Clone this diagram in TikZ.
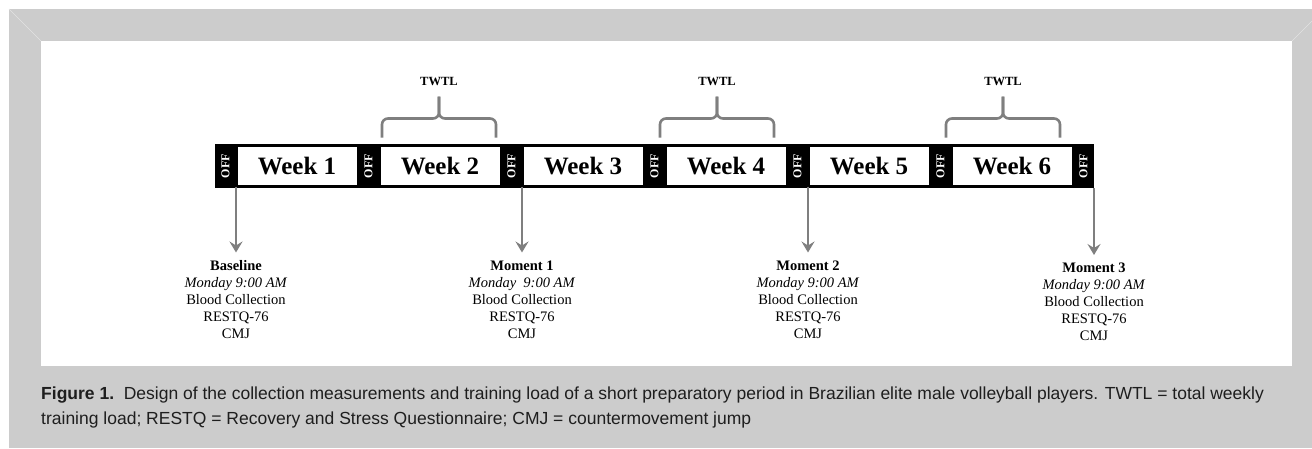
\documentclass[tikz,border=0pt]{standalone}
\usepackage{fontspec}
\setmainfont{Liberation Serif}
\newfontfamily\capfont{Liberation Sans}
\usetikzlibrary{positioning, arrows.meta, calc}
\definecolor{framegray}{HTML}{CCCCCC}
\definecolor{linegray}{HTML}{7F7F7F}
\definecolor{captext}{HTML}{1E1E1E}

\tikzset{
  offcell/.style={fill=black, minimum width=21pt, minimum height=44pt, inner sep=0pt, outer sep=0pt,
    text=white, font=\bfseries\fontsize{12}{12}\selectfont},
  weekbox/.style={draw=black, fill=white, line width=3pt, minimum width=122pt, minimum height=41pt,
    inner sep=0pt, outer sep=0pt, font=\bfseries\fontsize{25}{25}\selectfont},
  bracket/.style={draw=linegray, line width=2.6pt, rounded corners=6pt},
  twtl/.style={inner sep=0pt, font=\bfseries\fontsize{12.5}{12.5}\selectfont},
  moment/.style={align=center, inner sep=0pt, font=\fontsize{14.5}{17}\selectfont},
  momentarrow/.style={draw=linegray, line width=2.6pt, shorten >=8pt,
    -{Stealth[length=11pt, width=13pt, inset=4pt]}},
  caption/.style={align=left, inner sep=0pt, text=captext, font=\capfont\fontsize{17.5}{25}\selectfont}
}

\begin{document}
\begin{tikzpicture}[x=1pt, y=-1pt]
  \useasboundingbox (0,0) rectangle (1312,448);
  % frame
  \fill[white] (0,0) rectangle (1312,448);
  \fill[framegray] (9,9) rectangle (1312,448);
  \fill[white] (41,41) rectangle (1292,366);
  \draw[white!45!framegray, line width=0.6pt] (9,9) -- (41,41);
  \draw[white!45!framegray, line width=0.6pt] (1292,41) -- (1312,21);

  % timeline
  \node[offcell] (off0) at (225.5,166) {\rotatebox{90}{OFF}};
  \node[weekbox, right=0pt of off0] (w1) {Week 1};
  \node[offcell, right=0pt of w1] (off1) {\rotatebox{90}{OFF}};
  \node[weekbox, right=0pt of off1] (w2) {Week 2};
  \node[offcell, right=0pt of w2] (off2) {\rotatebox{90}{OFF}};
  \node[weekbox, right=0pt of off2] (w3) {Week 3};
  \node[offcell, right=0pt of w3] (off3) {\rotatebox{90}{OFF}};
  \node[weekbox, right=0pt of off3] (w4) {Week 4};
  \node[offcell, right=0pt of w4] (off4) {\rotatebox{90}{OFF}};
  \node[weekbox, right=0pt of off4] (w5) {Week 5};
  \node[offcell, right=0pt of w5] (off5) {\rotatebox{90}{OFF}};
  \node[weekbox, right=0pt of off5] (w6) {Week 6};
  \node[offcell, right=0pt of w6] (off6) {\rotatebox{90}{OFF}};

  % training load braces
  \foreach \w/\s in {w2/0, w4/-8, w6/-8} {
    \coordinate (\w-l) at ($(\w.north west)+(3+\s,-8)$);
    \coordinate (\w-r) at ($(\w.north east)+(-5+\s,-8)$);
    \draw[bracket] (\w-l) |- ($(\w-l)!0.5!(\w-r)+(0,-19)$) -- ++(0,-22) coordinate (\w-tip);
    \draw[bracket] (\w-r) |- ($(\w-l)!0.5!(\w-r)+(0,-19)$) -- ++(0,-22);
    \node[twtl, above=11pt of \w-tip] (\w-t) {TWTL};
  }

  % collection moments
  \node[moment, below=74pt of w1.south west] (base)
    {\textbf{Baseline}\\\textit{Monday 9:00 AM}\\Blood Collection\\RESTQ-76\\CMJ};
  \node[moment, below=74pt of w3.south west] (m1)
    {\textbf{Moment 1}\\\textit{Monday\ \ 9:00 AM}\\Blood Collection\\RESTQ-76\\CMJ};
  \node[moment, below=74pt of w5.south west] (m2)
    {\textbf{Moment 2}\\\textit{Monday 9:00 AM}\\Blood Collection\\RESTQ-76\\CMJ};
  \node[moment, below=75pt of off6.south east] (m3)
    {\textbf{Moment 3}\\\textit{Monday 9:00 AM}\\Blood Collection\\RESTQ-76\\CMJ};

  \draw[momentarrow] (w1.south west) -- (base.north);
  \draw[momentarrow] (w3.south west) -- (m1.north);
  \draw[momentarrow] (w5.south west) -- (m2.north);
  \draw[momentarrow] (off6.south east) -- (m3.north);

  % caption
  \node[caption, anchor=north west] (cap) at (41,387)
    {\textbf{Figure 1.}\ \ Design of the collection measurements and training load of a short preparatory period in Brazilian elite male volleyball players. TWTL = total weekly\\
     training load; RESTQ = Recovery and Stress Questionnaire; CMJ = countermovement jump};
\end{tikzpicture}
\end{document}
